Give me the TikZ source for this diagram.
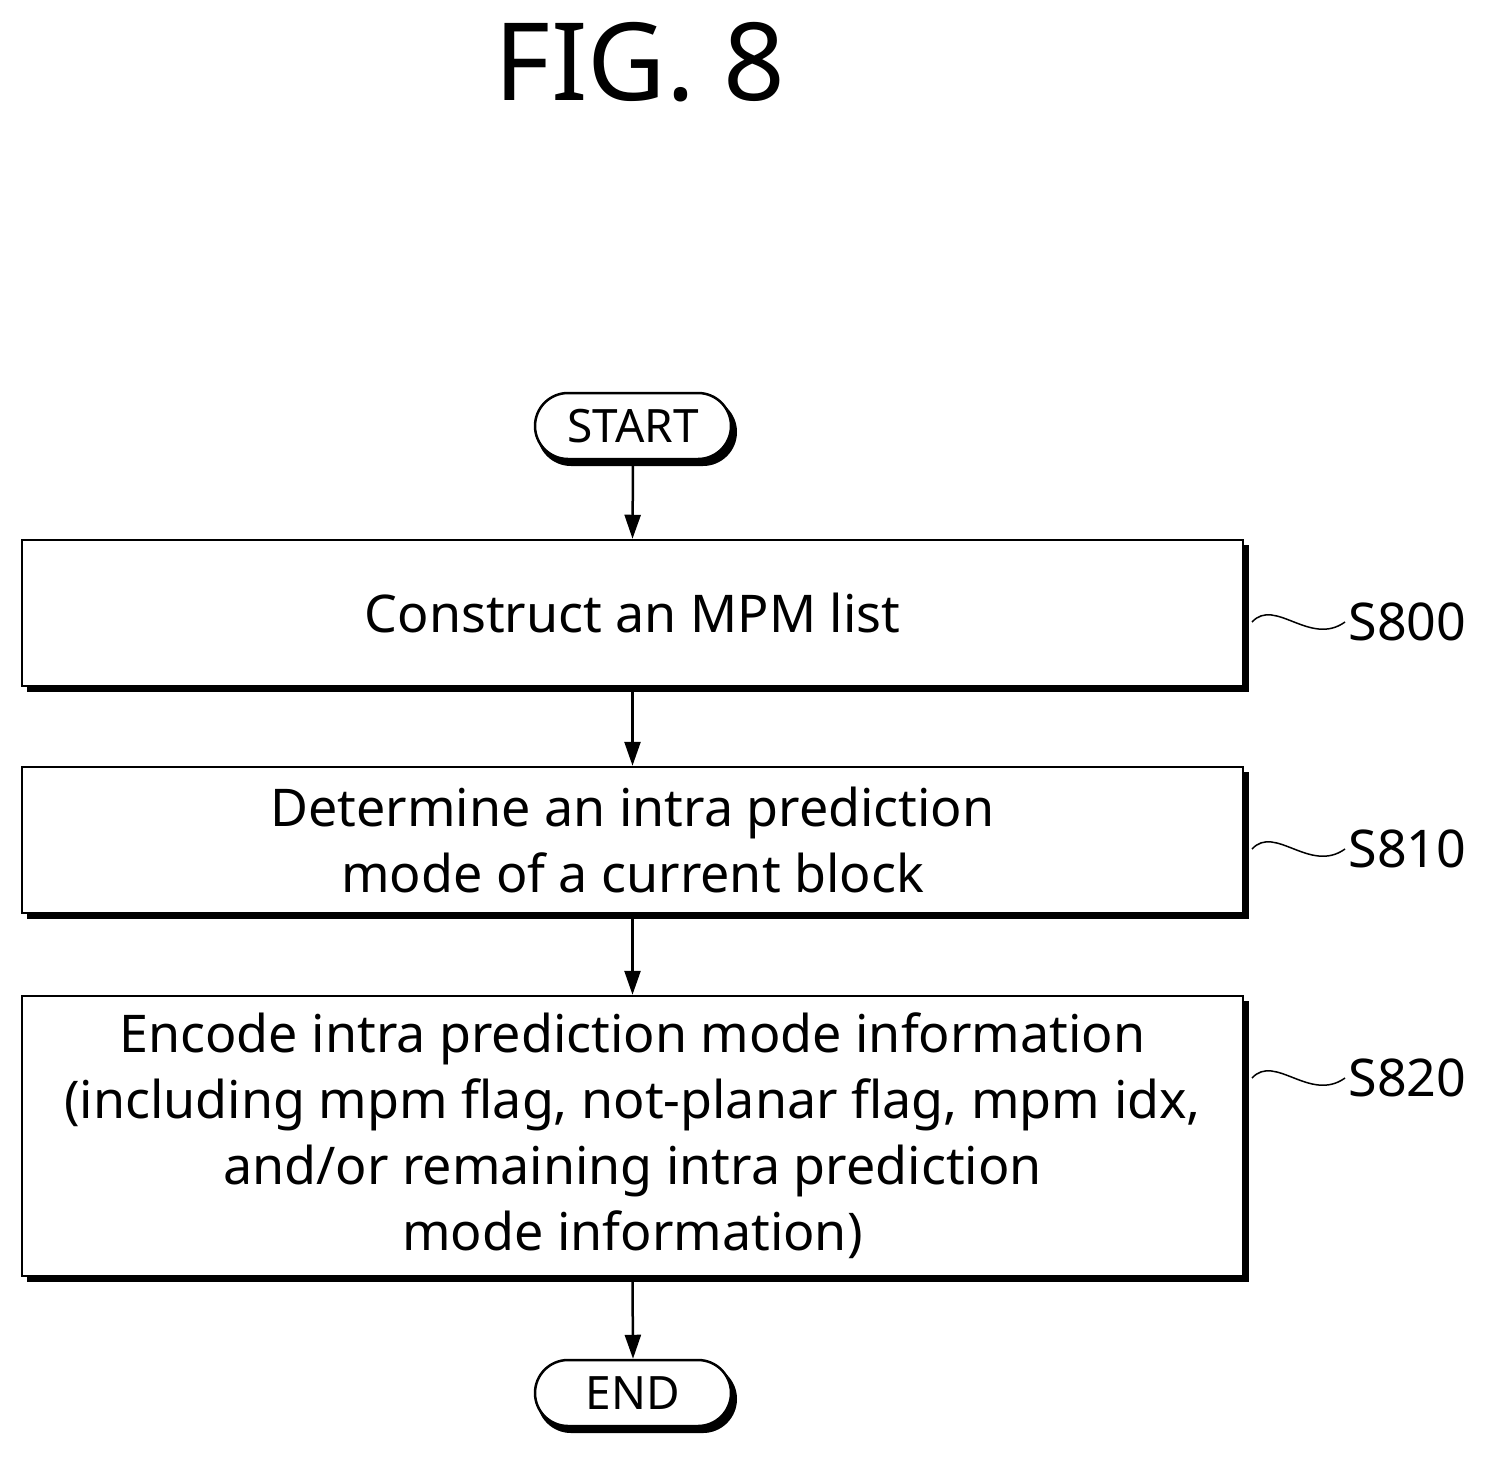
\documentclass[tikz,border=0pt]{standalone}
\usepackage{fontspec}
\setmainfont{Noto Sans}
\usetikzlibrary{arrows.meta,shapes.misc}
\begin{document}
\begin{tikzpicture}[x=1pt,y=-1pt,
 box/.style={draw,line width=2.5pt,fill=white,minimum width=1221pt,align=center,font=\fontsize{52}{66}\selectfont,inner sep=0pt},
 term/.style={draw,line width=2.5pt,fill=white,rounded rectangle,minimum width=196pt,minimum height=66pt,font=\fontsize{46}{50}\selectfont,inner sep=0pt},
 arr/.style={line width=2.5pt,-{Triangle[length=24pt,width=16pt]}},
 lab/.style={font=\fontsize{52}{54}\selectfont,anchor=west},
 wav/.style={line width=1.5pt}]
\useasboundingbox (0,0) rectangle (1490,1457);
\node[font=\fontsize{108}{110}\selectfont] (fig) at (640,62) {FIG. 8};
\fill[rounded corners=34pt] (537,398) rectangle (737,466);
\node[term] (start) at (633,426) {START};
\fill (27,545) rectangle (1249,692);
\node[box,minimum height=146pt] (a) at (632.5,613) {Construct an MPM list};
\fill (27,772) rectangle (1249,919);
\node[box,minimum height=146pt] (b) at (632.5,840) {Determine an intra prediction\\mode of a current block};
\fill (27,1001) rectangle (1249,1282);
\node[box,minimum height=280pt] (c) at (632.5,1136) {Encode intra prediction mode information\\(including mpm flag, not-planar flag, mpm idx,\\and/or remaining intra prediction\\mode information)};
\fill[rounded corners=34pt] (537,1365) rectangle (737,1433);
\node[term] (end) at (633,1393) {END};
\draw[arr] (start.south) -- (a.north);
\draw[arr] (a.south) -- (b.north);
\draw[arr] (b.south) -- (c.north);
\draw[arr] (c.south) -- (end.north);
\node[lab] (l0) at (1345,622) {S800};
\node[lab] (l1) at (1345,849) {S810};
\node[lab] (l2) at (1345,1078) {S820};
\foreach \n/\y in {l0/622,l1/849,l2/1078}
 \draw[wav] (1252,\y) .. controls (1275,\y-25) and (1310,\y+25) .. (\n.west);
\end{tikzpicture}
\end{document}
